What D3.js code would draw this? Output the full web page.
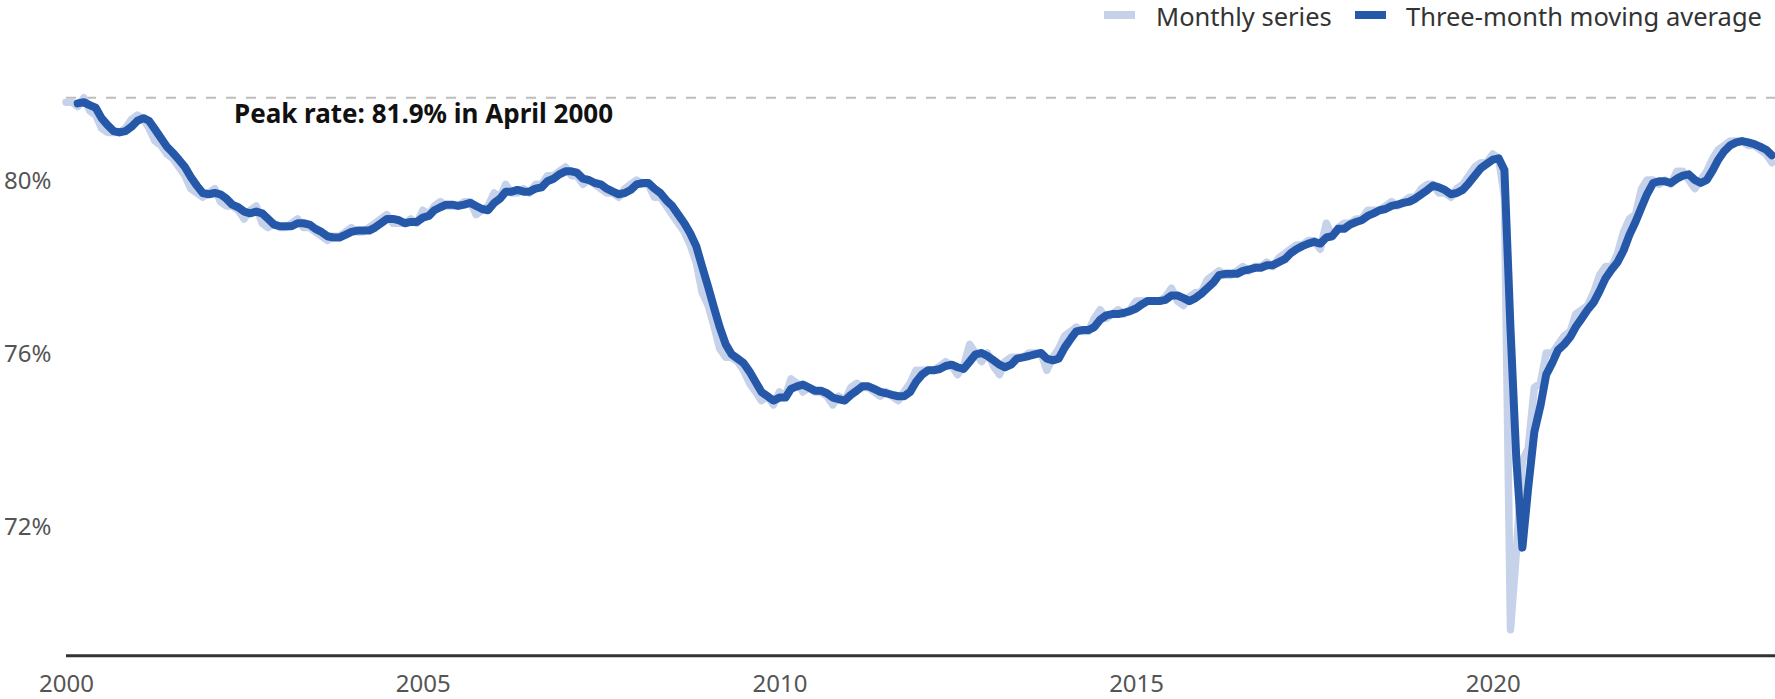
<!DOCTYPE html>
<html>
<head>
<meta charset="utf-8">
<script src="https://cdn.jsdelivr.net/npm/d3@7"></script>
<style>
  html, body { margin: 0; padding: 0; background: #ffffff; }
  svg { display: block; font-family: "Noto Sans", "Open Sans", sans-serif; }
</style>
</head>
<body>
<svg id="chart" width="1775" height="699"></svg>
<script>
// ---- Data (monthly, January 2000 to December 2023) ----
const startYear = 2000;

// Monthly series (%), one row per year
const monthlySeries = [
  81.8, 81.8, 81.7, 81.9, 81.6, 81.5, 81.2, 81.1, 81.1, 81.1, 81.2, 81.4, // 2000
  81.5, 81.4, 81.2, 80.9, 80.8, 80.6, 80.5, 80.3, 80.1, 79.8, 79.7, 79.6, // 2001
  79.7, 79.8, 79.5, 79.4, 79.4, 79.3, 79.1, 79.3, 79.4, 79.0, 78.9, 79.0, // 2002
  78.9, 78.9, 79.0, 79.1, 78.9, 78.9, 78.8, 78.7, 78.6, 78.7, 78.7, 78.8, // 2003
  78.9, 78.8, 78.8, 78.9, 79.0, 79.1, 79.2, 79.0, 79.0, 79.0, 79.1, 79.0, // 2004
  79.3, 79.2, 79.4, 79.5, 79.4, 79.4, 79.4, 79.5, 79.5, 79.2, 79.3, 79.4, // 2005
  79.7, 79.6, 79.9, 79.7, 79.7, 79.8, 79.7, 79.9, 79.9, 80.1, 80.1, 80.2, // 2006
  80.3, 80.1, 80.1, 79.9, 80.0, 79.9, 79.8, 79.7, 79.7, 79.6, 79.8, 79.9, // 2007
  80.0, 79.9, 79.9, 79.6, 79.6, 79.4, 79.2, 79.0, 78.8, 78.5, 78.1, 77.4, // 2008
  77.1, 76.6, 76.1, 75.9, 75.9, 75.8, 75.6, 75.3, 75.1, 74.9, 75.0, 74.8, // 2009
  75.1, 75.0, 75.4, 75.3, 75.1, 75.2, 75.1, 75.1, 75.0, 74.8, 75.0, 74.9, // 2010
  75.2, 75.3, 75.2, 75.2, 75.1, 75.0, 75.1, 75.0, 74.9, 75.1, 75.3, 75.6, // 2011
  75.6, 75.6, 75.6, 75.7, 75.8, 75.7, 75.5, 75.7, 76.2, 76.0, 75.8, 76.0, // 2012
  75.7, 75.5, 75.8, 75.9, 75.9, 75.9, 76.0, 76.0, 76.0, 75.6, 75.9, 76.1, // 2013
  76.4, 76.5, 76.6, 76.5, 76.5, 76.8, 77.0, 76.8, 76.9, 77.0, 76.9, 77.0, // 2014
  77.2, 77.2, 77.2, 77.2, 77.2, 77.3, 77.5, 77.2, 77.1, 77.3, 77.4, 77.4, // 2015
  77.7, 77.8, 77.9, 77.8, 77.8, 77.9, 78.0, 77.9, 78.0, 78.0, 78.1, 78.0, // 2016
  78.2, 78.3, 78.4, 78.5, 78.5, 78.6, 78.6, 78.4, 79.0, 78.7, 78.9, 79.0, // 2017
  79.0, 79.1, 79.1, 79.3, 79.3, 79.3, 79.4, 79.5, 79.4, 79.5, 79.6, 79.6, // 2018
  79.8, 79.9, 79.9, 79.7, 79.7, 79.6, 79.8, 79.9, 80.1, 80.3, 80.4, 80.4, // 2019
  80.6, 80.5, 79.6, 69.6, 71.4, 73.5, 73.8, 75.2, 75.3, 76.0, 76.0, 76.2, // 2020
  76.4, 76.5, 76.9, 77.0, 77.1, 77.4, 77.8, 78.0, 78.0, 78.3, 78.8, 79.1, // 2021
  79.2, 79.8, 80.0, 80.0, 79.9, 80.0, 79.9, 80.2, 80.2, 80.0, 79.8, 80.0, // 2022
  80.2, 80.5, 80.7, 80.8, 80.9, 80.9, 80.9, 80.8, 80.8, 80.7, 80.6, 80.4  // 2023
];

// Three-month moving average (%), one row per year
const movingAverage = [
  null,  null,  81.77, 81.8,  81.73, 81.67, 81.43, 81.27, 81.13, 81.1,  81.13, 81.23, // 2000
  81.37, 81.43, 81.37, 81.17, 80.97, 80.77, 80.63, 80.47, 80.3,  80.07, 79.87, 79.7,  // 2001
  79.67, 79.7,  79.67, 79.57, 79.43, 79.37, 79.27, 79.23, 79.27, 79.23, 79.1,  78.97, // 2002
  78.93, 78.93, 78.93, 79.0,  79.0,  78.97, 78.87, 78.8,  78.7,  78.67, 78.67, 78.73, // 2003
  78.8,  78.83, 78.83, 78.83, 78.9,  79.0,  79.1,  79.1,  79.07, 79.0,  79.03, 79.03, // 2004
  79.13, 79.17, 79.3,  79.37, 79.43, 79.43, 79.4,  79.43, 79.47, 79.4,  79.33, 79.3,  // 2005
  79.47, 79.57, 79.73, 79.73, 79.77, 79.73, 79.73, 79.8,  79.83, 79.97, 80.03, 80.13, // 2006
  80.2,  80.2,  80.17, 80.03, 80.0,  79.93, 79.9,  79.8,  79.73, 79.67, 79.7,  79.77, // 2007
  79.9,  79.93, 79.93, 79.8,  79.7,  79.53, 79.4,  79.2,  79.0,  78.77, 78.47, 78.0,  // 2008
  77.53, 77.03, 76.6,  76.2,  75.97, 75.87, 75.77, 75.57, 75.33, 75.1,  75.0,  74.9,  // 2009
  74.97, 74.97, 75.17, 75.23, 75.27, 75.2,  75.13, 75.13, 75.07, 74.97, 74.93, 74.9,  // 2010
  75.03, 75.13, 75.23, 75.23, 75.17, 75.1,  75.07, 75.03, 75.0,  75.0,  75.1,  75.33, // 2011
  75.5,  75.6,  75.6,  75.63, 75.7,  75.73, 75.67, 75.63, 75.8,  75.97, 76.0,  75.93, // 2012
  75.83, 75.73, 75.67, 75.73, 75.87, 75.9,  75.93, 75.97, 76.0,  75.87, 75.83, 75.87, // 2013
  76.13, 76.33, 76.5,  76.53, 76.53, 76.6,  76.77, 76.87, 76.9,  76.9,  76.93, 76.97, // 2014
  77.03, 77.13, 77.2,  77.2,  77.2,  77.23, 77.33, 77.33, 77.27, 77.2,  77.27, 77.37, // 2015
  77.5,  77.63, 77.8,  77.83, 77.83, 77.83, 77.9,  77.93, 77.97, 77.97, 78.03, 78.03, // 2016
  78.1,  78.17, 78.3,  78.4,  78.47, 78.53, 78.57, 78.53, 78.67, 78.7,  78.87, 78.87, // 2017
  78.97, 79.03, 79.07, 79.17, 79.23, 79.3,  79.33, 79.4,  79.43, 79.47, 79.5,  79.57, // 2018
  79.67, 79.77, 79.87, 79.83, 79.77, 79.67, 79.7,  79.77, 79.93, 80.1,  80.27, 80.37, // 2019
  80.47, 80.5,  80.23, 76.57, 73.53, 71.5,  72.9,  74.17, 74.77, 75.5,  75.77, 76.07, // 2020
  76.2,  76.37, 76.6,  76.8,  77.0,  77.17, 77.43, 77.73, 77.93, 78.1,  78.37, 78.73, // 2021
  79.03, 79.37, 79.67, 79.93, 79.97, 79.97, 79.93, 80.03, 80.1,  80.13, 80.0,  79.93, // 2022
  80.0,  80.23, 80.47, 80.67, 80.8,  80.87, 80.9,  80.87, 80.83, 80.77, 80.7,  80.57  // 2023
];

const xTickYears = [2000, 2005, 2010, 2015, 2020];
const yTickValues = [72, 76, 80];
const peakValue = 81.9;
const peakLabel = "Peak rate: 81.9% in April 2000";
const legendLabels = ["Monthly series", "Three-month moving average"];

// ---- Styles ----
const colLight = "#c6d2e9";
const colDark = "#2658aa";

const svg = d3.select("#chart");
const W = 1775;

const dates = monthlySeries.map((_, i) => new Date(startYear, i, 1));
const rowsMonthly = monthlySeries.map((v, i) => ({ date: dates[i], value: v }));
const rowsAvg = movingAverage.map((v, i) => ({ date: dates[i], value: v }));

const x = d3.scaleTime()
  .domain([dates[0], dates[dates.length - 1]])
  .range([66, 1772]);

const y = d3.scaleLinear()
  .domain([69, 82])
  .range([655.75, 93.5]);

// Peak reference line
svg.append("line")
  .attr("x1", x(dates[0])).attr("x2", W)
  .attr("y1", y(peakValue)).attr("y2", y(peakValue))
  .attr("stroke", "#bdbdbd").attr("stroke-width", 2)
  .attr("stroke-dasharray", "10,10");

// Y tick labels
const yAxis = d3.axisLeft(y).tickValues(yTickValues).tickSize(0).tickFormat(d => d + "%");
const gy = svg.append("g").attr("transform", "translate(4,0)").call(yAxis);
gy.select(".domain").remove();
gy.selectAll("text")
  .attr("x", 0).attr("dy", null)
  .attr("y", 8.6)
  .attr("text-anchor", "start")
  .attr("fill", "#555").style("font-size", "24px")
  .style("font-family", '"Noto Sans", sans-serif');

// X axis
const xAxis = d3.axisBottom(x)
  .tickValues(xTickYears.map(yr => new Date(yr, 0, 1)))
  .tickSize(0)
  .tickFormat(d3.timeFormat("%Y"));
const gx = svg.append("g").attr("transform", `translate(0,${y(69)})`).call(xAxis);
gx.select(".domain").remove();
gx.selectAll("text")
  .attr("y", 36).attr("dy", null)
  .attr("fill", "#555").style("font-size", "24px")
  .style("font-family", '"Noto Sans", sans-serif');

svg.append("line")
  .attr("x1", x(dates[0])).attr("x2", W)
  .attr("y1", y(69)).attr("y2", y(69))
  .attr("stroke", "#333").attr("stroke-width", 3);

// Lines
const line = d3.line()
  .defined(d => d.value != null)
  .x(d => x(d.date))
  .y(d => y(d.value));

svg.append("path")
  .datum(rowsMonthly)
  .attr("d", line)
  .attr("fill", "none")
  .attr("stroke", colLight)
  .attr("stroke-width", 7.5)
  .attr("stroke-linejoin", "round")
  .attr("stroke-linecap", "round");

svg.append("path")
  .datum(rowsAvg)
  .attr("d", line)
  .attr("fill", "none")
  .attr("stroke", colDark)
  .attr("stroke-width", 8)
  .attr("stroke-linejoin", "round")
  .attr("stroke-linecap", "round");

// Peak annotation
svg.append("text")
  .attr("x", 234).attr("y", 123)
  .attr("fill", "#111")
  .style("font-size", "26px").style("font-weight", "700")
  .text(peakLabel);

// Legend
const legend = svg.append("g");
const legendItems = [
  { label: legendLabels[0], color: colLight, sx: 1104, tx: 1156 },
  { label: legendLabels[1], color: colDark, sx: 1355, tx: 1406 }
];
legendItems.forEach(it => {
  legend.append("rect")
    .attr("x", it.sx).attr("y", 11).attr("width", 31).attr("height", 8)
    .attr("fill", it.color);
  legend.append("text")
    .attr("x", it.tx).attr("y", 26)
    .attr("fill", "#333")
    .style("font-size", "25.5px")
    .text(it.label);
});
</script>
</body>
</html>
